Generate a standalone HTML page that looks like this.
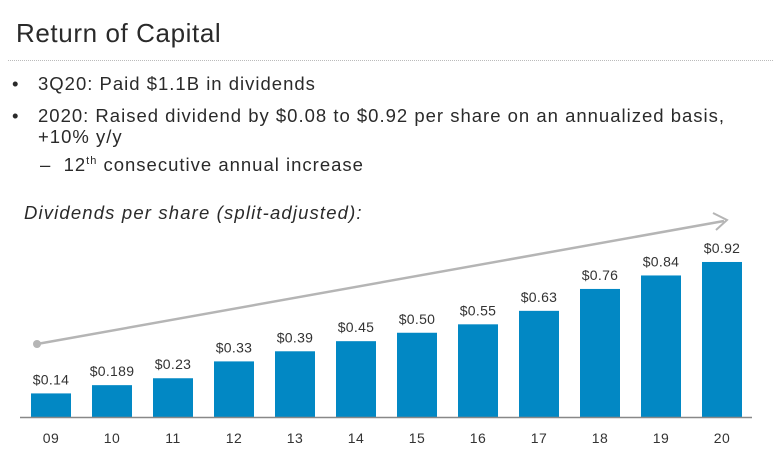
<!DOCTYPE html>
<html><head><meta charset="utf-8"><style>
body{margin:0;width:773px;height:456px;background:#fff;font-family:"Liberation Sans",sans-serif;color:#2a2a2a;overflow:hidden;position:relative}
.t{position:absolute;white-space:nowrap}
.b{font-size:18.5px;letter-spacing:1px}
</style></head><body>
<div class="t" style="left:16px;top:18px;font-size:26px;letter-spacing:0.6px">Return of Capital</div>
<div style="position:absolute;left:8px;top:60px;width:765px;border-top:1px dotted #bbb"></div>
<div class="t b" style="left:12px;top:73px">•</div>
<div class="t b" style="left:38px;top:73px">3Q20: Paid $1.1B in dividends</div>
<div class="t b" style="left:12px;top:105px">•</div>
<div class="t b" style="left:38px;top:105px;line-height:21px">2020: Raised dividend by $0.08 to $0.92 per share on an annualized basis,<br>+10% y/y</div>
<div class="t b" style="left:40px;top:154px">–&nbsp;&nbsp;12<sup style="font-size:11px">th</sup> consecutive annual increase</div>
<div class="t" style="left:24px;top:202px;font-size:18.5px;letter-spacing:1.15px;font-style:italic">Dividends per share (split-adjusted):</div>
<svg id="c" width="773" height="456" style="position:absolute;left:0;top:0"></svg>
<script>
const years=["09","10","11","12","13","14","15","16","17","18","19","20"];
const values=[0.14,0.189,0.23,0.33,0.39,0.45,0.50,0.55,0.63,0.76,0.84,0.92];
const labels=["$0.14","$0.189","$0.23","$0.33","$0.39","$0.45","$0.50","$0.55","$0.63","$0.76","$0.84","$0.92"];
const svg=document.getElementById('c');const NS="http://www.w3.org/2000/svg";
const base=417,k=168.5,x0=31,step=61,bw=40;
const X=i=>x0+i*step, Y=v=>base-v*k;
function mk(t,a){const e=document.createElementNS(NS,t);for(const n in a)e.setAttribute(n,a[n]);svg.appendChild(e);return e;}
let e=mk('line',{x1:37,y1:344,x2:724,y2:221,stroke:'#b5b5b5','stroke-width':2.5});

e=mk('polyline',{points:'713,213 727,220 716,230',fill:'none',stroke:'#b5b5b5','stroke-width':2});

e=mk('circle',{cx:37,cy:344,r:4,fill:'#b5b5b5'});

values.forEach((v,i)=>{
 let r=mk('rect',{x:X(i),y:Y(v),width:bw,height:v*k,fill:'#0288c4'});
 
 let t=mk('text',{x:X(i)+bw/2,y:Y(v)-9,'text-anchor':'middle','font-size':14,'letter-spacing':0.3,fill:'#333','font-family':'Liberation Sans'});t.textContent=labels[i];
 
 let y=mk('text',{x:X(i)+bw/2,y:443,'text-anchor':'middle','font-size':14,'letter-spacing':0.5,fill:'#333','font-family':'Liberation Sans'});y.textContent=years[i];
 
});
e=mk('line',{x1:20,y1:417.5,x2:752,y2:417.5,stroke:'#888','stroke-width':1.5});

</script>
</body></html>
